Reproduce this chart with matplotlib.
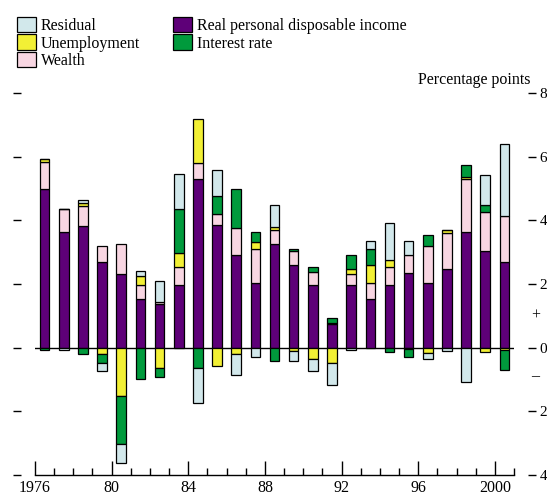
import numpy as np
import matplotlib

matplotlib.use("Agg")
import matplotlib.pyplot as plt
from matplotlib.patches import Patch
from matplotlib.ticker import FixedLocator, MultipleLocator

plt.rcParams["font.family"] = ["Liberation Serif", "DejaVu Serif"]

years = np.arange(1976, 2001)
income = [4.98, 3.62, 3.83, 2.68, 2.32, 1.53, 1.36, 1.97, 5.29, 3.84, 2.90, 2.03, 3.26,
          2.61, 1.96, 0.74, 1.96, 1.53, 1.96, 2.34, 2.03, 2.47, 3.62, 3.05, 2.68]
wealth = [0.86, 0.74, 0.63, 0.52, 0.94, 0.43, 0.08, 0.56, 0.51, 0.36, 0.86, 1.08, 0.43,
          0.43, 0.42, 0.05, 0.37, 0.49, 0.57, 0.58, 1.15, 1.14, 1.67, 1.22, 1.45]
unemployment = [0.09, 0.00, 0.07, -0.19, -1.51, 0.29, -0.64, 0.43, 1.37, -0.57, -0.20, 0.22, 0.09,
                -0.12, -0.34, -0.49, 0.14, 0.59, 0.23, -0.05, -0.18, 0.08, 0.06, -0.14, -0.07]
interest = [-0.07, 0.00, -0.21, -0.30, -1.51, -0.99, -0.29, 1.39, -0.63, 0.57, 1.23, 0.30, -0.42,
            0.07, 0.17, 0.15, 0.44, 0.50, -0.14, -0.23, 0.37, 0.00, 0.38, 0.21, -0.63]
residual = [0.00, -0.07, 0.12, -0.23, -0.60, 0.15, 0.67, 1.10, -1.11, 0.81, -0.66, -0.28, 0.71,
            -0.30, -0.38, -0.67, -0.07, 0.23, 1.15, 0.43, -0.17, -0.12, -1.07, 0.95, 2.26]

series = [
    ("Real personal disposable income", income, "#5e0078"),
    ("Wealth", wealth, "#f8d6e2"),
    ("Unemployment", unemployment, "#f2f035"),
    ("Interest rate", interest, "#009a3c"),
    ("Residual", residual, "#d2e8eb"),
]

FS = 11.5

fig = plt.figure(figsize=(5.47, 4.96), dpi=100)
ax = fig.add_axes([0.064, 0.0423, 0.8757, 0.7702])

pos = np.zeros(len(years))
neg = np.zeros(len(years))
for name, vals, color in series:
    vals = np.asarray(vals)
    bottom = np.where(vals >= 0, pos, neg)
    ax.bar(years + 0.5, vals, bottom=bottom, width=0.5, color=color,
           edgecolor="black", linewidth=0.9)
    pos = pos + np.clip(vals, 0, None)
    neg = neg + np.clip(vals, None, 0)

ax.axhline(0, color="black", linewidth=1.0, zorder=0.5)

ax.set_xlim(1976, 2001)
ax.set_ylim(-4, 8)

for side in ("top", "left", "right"):
    ax.spines[side].set_visible(False)
ax.spines["left"].set_position(("outward", 10))
ax.spines["right"].set_position(("outward", 10))
ax.spines["bottom"].set_linewidth(1.0)

ax.xaxis.set_major_locator(FixedLocator([1976, 1980, 1984, 1988, 1992, 1996, 2000]))
ax.set_xticklabels(["1976", "80", "84", "88", "92", "96", "2000"])
ax.xaxis.set_minor_locator(MultipleLocator(1))
ax.tick_params(axis="x", which="major", direction="in", length=10, width=1.0,
               labelsize=FS, pad=3.5)
ax.tick_params(axis="x", which="minor", direction="in", length=5, width=1.0)

yt = [-4, -2, 0, 2, 4, 6, 8]
ax.set_yticks(yt)
ax.set_yticklabels([str(abs(v)) for v in yt])
ax.tick_params(axis="y", which="both", left=True, right=True, labelleft=False,
               labelright=True, direction="out", length=5.5, width=1.0,
               labelsize=11, pad=3)

ax.text(1.045, 5 / 12, "+", transform=ax.transAxes, ha="center", va="center",
        fontsize=FS)
ax.text(1.045, 3.1 / 12, "\u2013", transform=ax.transAxes, ha="center", va="center",
        fontsize=FS)

fig.text(0.969, 0.8306, "Percentage points", ha="right", va="baseline", fontsize=FS)

order = ["Residual", "Unemployment", "Wealth", "Real personal disposable income",
         "Interest rate"]
colors = {name: c for name, _, c in series}
handles = [Patch(facecolor=colors[n], edgecolor="black", linewidth=0.9) for n in order]
fig.legend(handles, order, loc="upper left", bbox_to_anchor=(0.031, 0.966), ncol=2,
           frameon=False, fontsize=FS, handlelength=1.19, handleheight=1.1,
           handletextpad=0.3, labelspacing=0.03, columnspacing=2.05,
           borderaxespad=0, borderpad=0)

fig.savefig("out.png", dpi=100)
